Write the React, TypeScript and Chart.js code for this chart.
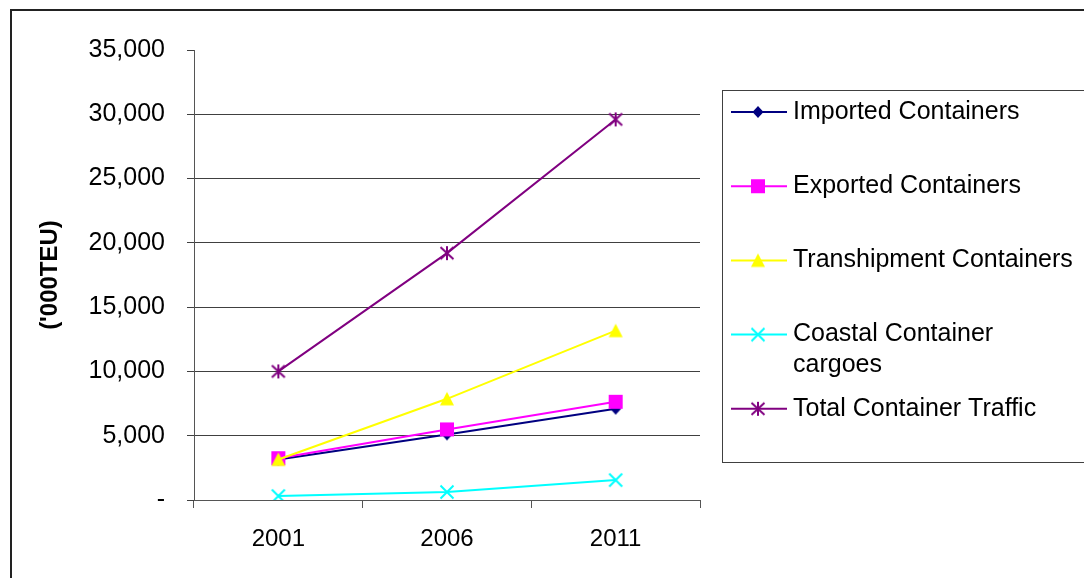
import React, { useEffect, useRef } from 'react';
import { Chart, registerables } from 'chart.js';

Chart.register(...registerables);

// Container traffic in thousand TEU
const years = ['2001', '2006', '2011'];
const importedContainers = [3150, 5100, 7100];
const exportedContainers = [3250, 5490, 7640];
const transhipmentContainers = [3150, 7870, 13170];
const coastalCargoes = [310, 620, 1550];
const totalTraffic = [10000, 19200, 29600];

const seriesNames = [
  'Imported Containers',
  'Exported Containers',
  'Transhipment Containers',
  'Coastal Container cargoes',
  'Total Container Traffic',
];
const seriesValues = [importedContainers, exportedContainers, transhipmentContainers, coastalCargoes, totalTraffic];
const seriesColors = ['#000080', '#FF00FF', '#FFFF00', '#00FFFF', '#800080'];
const markerKinds = ['diamond', 'square', 'triangle', 'x', 'asterisk'];

const yMin = 0;
const yMax = 35000;
const yStep = 5000;
const yAxisTitle = "('000TEU)";

const FONT = '"Liberation Sans", Arial, sans-serif';

function makeMarker(kind: string, color: string): HTMLCanvasElement {
  const size = 16;
  const c = document.createElement('canvas');
  c.width = size;
  c.height = size;
  const g = c.getContext('2d')!;
  const m = size / 2;
  g.fillStyle = color;
  g.strokeStyle = color;
  g.lineWidth = 2;
  g.lineCap = 'butt';
  g.beginPath();
  switch (kind) {
    case 'diamond':
      g.moveTo(m, m - 6);
      g.lineTo(m + 5.5, m);
      g.lineTo(m, m + 6);
      g.lineTo(m - 5.5, m);
      g.closePath();
      g.fill();
      break;
    case 'square':
      g.fillRect(m - 7, m - 7, 14, 14);
      break;
    case 'triangle':
      g.moveTo(m, m - 7);
      g.lineTo(m + 7, m + 6.5);
      g.lineTo(m - 7, m + 6.5);
      g.closePath();
      g.fill();
      break;
    case 'x':
      g.moveTo(m - 6.5, m - 6.5);
      g.lineTo(m + 6.5, m + 6.5);
      g.moveTo(m + 6.5, m - 6.5);
      g.lineTo(m - 6.5, m + 6.5);
      g.stroke();
      break;
    case 'asterisk':
      g.moveTo(m - 6.5, m - 6);
      g.lineTo(m + 6.5, m + 6);
      g.moveTo(m + 6.5, m - 6);
      g.lineTo(m - 6.5, m + 6);
      g.moveTo(m, m - 7);
      g.lineTo(m, m + 7);
      g.stroke();
      break;
  }
  return c;
}

function wrapText(ctx: CanvasRenderingContext2D, text: string, maxWidth: number): string[] {
  const words = text.split(' ');
  const lines: string[] = [];
  let line = '';
  for (const w of words) {
    const test = line ? line + ' ' + w : w;
    if (line && ctx.measureText(test).width > maxWidth) {
      lines.push(line);
      line = w;
    } else {
      line = test;
    }
  }
  if (line) lines.push(line);
  return lines;
}

// White page with the outer chart border
const framePlugin = {
  id: 'frame',
  beforeDraw(chart: any) {
    const { ctx, width, height } = chart;
    ctx.save();
    ctx.fillStyle = '#ffffff';
    ctx.fillRect(0, 0, width, height);
    ctx.strokeStyle = '#222222';
    ctx.lineWidth = 2;
    ctx.strokeRect(11, 10, width + 20, height + 20);
    ctx.restore();
  },
};

// Boxed legend on the right side of the plot
const sideLegendPlugin = {
  id: 'sideLegend',
  afterDraw(chart: any) {
    const { ctx } = chart;
    const box = { left: 722.5, top: 90.5, bottom: 462.5 };
    ctx.save();
    ctx.strokeStyle = '#404040';
    ctx.lineWidth = 1;
    ctx.strokeRect(box.left, box.top, 500, box.bottom - box.top);

    const lineX0 = 731;
    const lineX1 = 787;
    const markerX = 758;
    const textX = 793;
    const firstRow = 112;
    const rowStep = 74.2;
    const lineGap = 31;

    ctx.font = `25px ${FONT}`;
    ctx.textBaseline = 'middle';
    ctx.textAlign = 'left';
    chart.data.datasets.forEach((ds: any, i: number) => {
      const y = firstRow + i * rowStep;
      ctx.strokeStyle = ds.borderColor;
      ctx.lineWidth = 2;
      ctx.beginPath();
      ctx.moveTo(lineX0, y);
      ctx.lineTo(lineX1, y);
      ctx.stroke();
      const mk = ds.pointStyle as HTMLCanvasElement;
      ctx.drawImage(mk, markerX - mk.width / 2, y - mk.height / 2);
      ctx.fillStyle = '#000000';
      const lines = wrapText(ctx, ds.label, 288);
      lines.forEach((ln, k) => ctx.fillText(ln, textX, y + k * lineGap));
    });
    ctx.restore();
  },
};

export default function App() {
  const canvasRef = useRef<HTMLCanvasElement>(null);

  useEffect(() => {
    const canvas = canvasRef.current;
    if (!canvas) return;
    const n = seriesNames.length;
    const chart = new Chart(canvas, {
      type: 'line',
      data: {
        labels: years,
        datasets: seriesValues.map((data, i) => ({
          label: seriesNames[i],
          data,
          borderColor: seriesColors[i],
          backgroundColor: seriesColors[i],
          borderWidth: 2,
          pointStyle: makeMarker(markerKinds[i], seriesColors[i]) as any,
          pointRadius: 7,
          pointHoverRadius: 7,
          tension: 0,
          fill: false,
          order: n - 1 - i,
        })),
      },
      options: {
        responsive: false,
        animation: false,
        events: [],
        layout: { padding: { top: 50, right: 384, bottom: 0, left: 0 } },
        plugins: {
          legend: { display: false },
          tooltip: { enabled: false },
        },
        scales: {
          x: {
            offset: true,
            grid: {
              offset: true,
              drawOnChartArea: false,
              drawTicks: true,
              tickLength: 8,
              color: '#555555',
              tickColor: '#555555',
            },
            border: { color: '#555555', width: 1 },
            ticks: {
              color: '#000000',
              font: { family: FONT, size: 24 },
              padding: 17,
              maxRotation: 0,
            },
            afterFit: (s: any) => {
              s.height = 78;
            },
          },
          y: {
            min: yMin,
            max: yMax,
            grid: {
              color: (ctx: any) => (ctx.tick && ctx.tick.value === yMax ? 'rgba(0,0,0,0)' : '#404040'),
              tickColor: '#404040',
              tickLength: 7,
              drawTicks: true,
            },
            border: { color: '#555555', width: 1 },
            ticks: {
              stepSize: yStep,
              color: '#000000',
              font: { family: FONT, size: 25 },
              padding: 22,
              callback: (v: any) => (Number(v) === 0 ? '-' : Number(v).toLocaleString('en-US')),
            },
            title: {
              display: true,
              text: yAxisTitle,
              color: '#000000',
              font: { family: FONT, size: 24, weight: 'bold' },
              padding: { top: 36, bottom: 0 },
            },
            afterFit: (s: any) => {
              s.width = 194;
            },
          },
        },
      },
      plugins: [framePlugin, sideLegendPlugin],
    } as any);
    return () => chart.destroy();
  }, []);

  return (
    <div style={{ position: 'absolute', left: 0, top: 0, width: 1084, height: 578 }}>
      <canvas ref={canvasRef} width={1084} height={578} style={{ display: 'block' }} />
    </div>
  );
}
